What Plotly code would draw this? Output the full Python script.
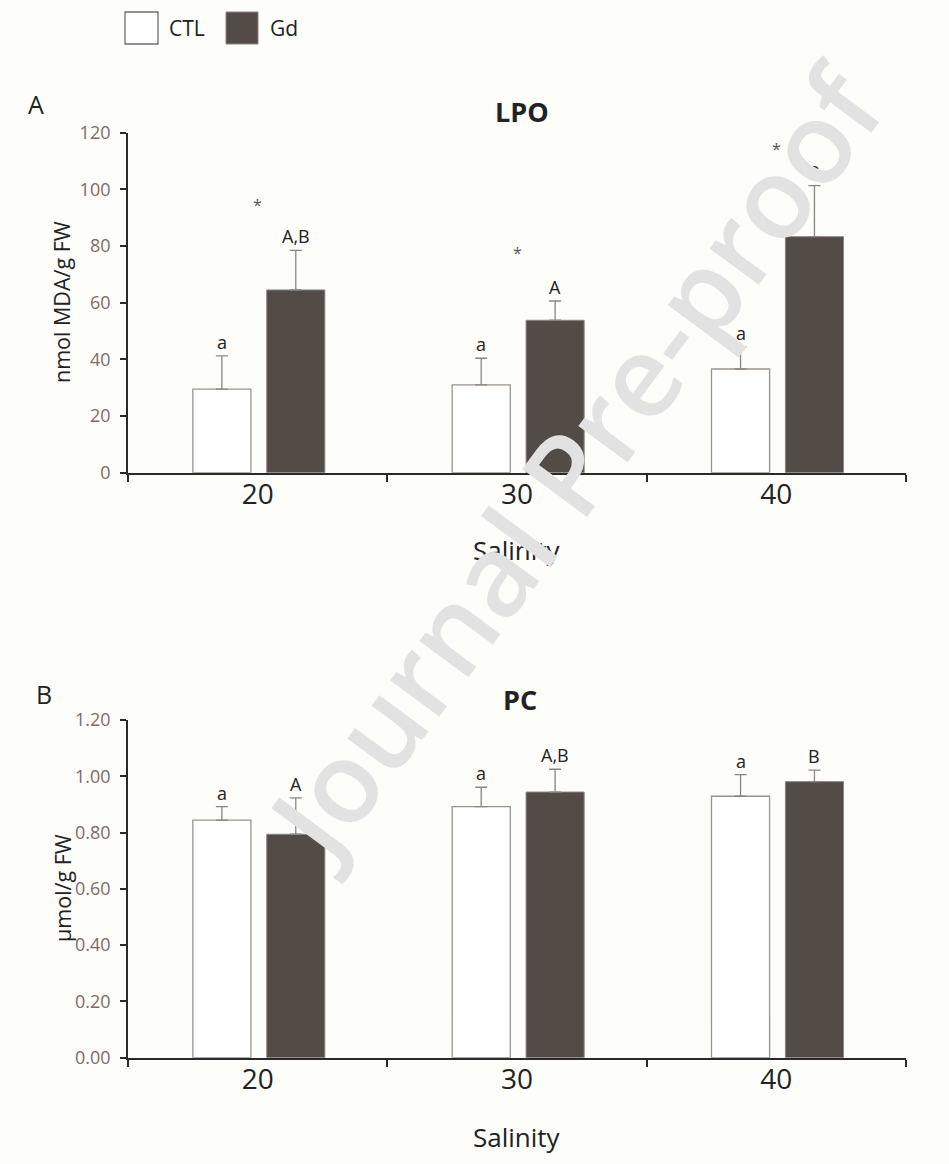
import plotly.graph_objects as go

# ---------------- data ----------------
salinity = ["20", "30", "40"]

lpo_ctl = [29.5, 31.0, 36.6]
lpo_ctl_err = [11.7, 9.4, 7.8]
lpo_gd = [64.5, 53.8, 83.3]
lpo_gd_err = [14.0, 6.8, 18.0]
lpo_ctl_letters = ["a", "a", "a"]
lpo_gd_letters = ["A,B", "A", "B"]
lpo_star_y = [94.5, 77.4, 114.2]

pc_ctl = [0.844, 0.892, 0.929]
pc_ctl_err = [0.048, 0.069, 0.077]
pc_gd = [0.794, 0.944, 0.981]
pc_gd_err = [0.129, 0.081, 0.041]
pc_ctl_letters = ["a", "a", "a"]
pc_gd_letters = ["A", "A,B", "B"]

lpo_ticks = [0, 20, 40, 60, 80, 100, 120]
pc_ticks = [0.0, 0.2, 0.4, 0.6, 0.8, 1.0, 1.2]

# ---------------- style ----------------
W, H = 949, 1164
FONT = "Open Sans"
BG = "#fdfdfa"
GD_COLOR = "#534c46"
CTL_COLOR = "#ffffff"
EDGE = "#9a9290"
ERR = "#8c8482"
AXIS = "#2a2a2a"
TICKLAB = "#7d6c63"
TXT = "#222222"

BAR_W = 0.224
CTL_OFF = -0.25
GD_OFF = 0.035


def px(x):
    return x / W


def py(y):
    return 1 - y / H


fig = go.Figure()


def add_bars(ctl, ctl_err, gd, gd_err, xa, ya):
    fig.add_trace(go.Bar(
        x=salinity, y=ctl, offset=CTL_OFF, width=BAR_W, name="CTL",
        marker=dict(color=CTL_COLOR, line=dict(color=EDGE, width=1.3)),
        error_y=dict(type="data", array=ctl_err, arrayminus=[0] * len(ctl),
                     symmetric=False, color=ERR, thickness=1.3, width=6),
        xaxis=xa, yaxis=ya, showlegend=False))
    fig.add_trace(go.Bar(
        x=salinity, y=gd, offset=GD_OFF, width=BAR_W, name="Gd",
        marker=dict(color=GD_COLOR, line=dict(color=ERR, width=1.0)),
        error_y=dict(type="data", array=gd_err, arrayminus=[0] * len(gd),
                     symmetric=False, color=ERR, thickness=1.3, width=6),
        xaxis=xa, yaxis=ya, showlegend=False))


add_bars(lpo_ctl, lpo_ctl_err, lpo_gd, lpo_gd_err, "x", "y")
add_bars(pc_ctl, pc_ctl_err, pc_gd, pc_gd_err, "x2", "y2")

annotations = []


def add_letters(vals, errs, letters, off, xr, yr):
    for i, (v, e, t) in enumerate(zip(vals, errs, letters)):
        annotations.append(dict(
            x=i + off + BAR_W / 2, y=v + e, xref=xr, yref=yr, text=t,
            showarrow=False, xanchor="center", yanchor="bottom", yshift=0,
            font=dict(family=FONT, size=18, color=TXT)))


add_letters(lpo_ctl, lpo_ctl_err, lpo_ctl_letters, CTL_OFF, "x", "y")
add_letters(lpo_gd, lpo_gd_err, lpo_gd_letters, GD_OFF, "x", "y")
add_letters(pc_ctl, pc_ctl_err, pc_ctl_letters, CTL_OFF, "x2", "y2")
add_letters(pc_gd, pc_gd_err, pc_gd_letters, GD_OFF, "x2", "y2")

for i, sy in enumerate(lpo_star_y):
    annotations.append(dict(
        x=i, y=sy, xref="x", yref="y", text="*", showarrow=False,
        xanchor="center", yanchor="middle",
        font=dict(family=FONT, size=16, color="#555555")))


def ptext(x, y, text, size, angle=0, xanchor="center", **kw):
    font = dict(family=FONT, size=size, color=kw.pop("color", TXT))
    font.update(kw.pop("font_extra", {}))
    return dict(x=px(x), y=py(y), xref="paper", yref="paper", text=text,
                textangle=angle, showarrow=False, xanchor=xanchor,
                yanchor="middle", font=font)


annotations += [
    ptext(522, 111, "<b>LPO</b>", 27),
    ptext(520, 699, "<b>PC</b>", 27),
    ptext(36, 104, "A", 25),
    ptext(44, 694, "B", 25),
    ptext(62, 302, "nmol MDA/g FW", 21.5, angle=-90),
    ptext(62, 888, "µmol/g FW", 21.5, angle=-90),
    ptext(517, 550, "Salinity", 26),
    ptext(517, 1137, "Salinity", 26),
    ptext(167, 28, "CTL", 21, xanchor="left"),
    ptext(268, 28, "Gd", 21, xanchor="left"),
    # watermark (on top of everything, as in the reference)
    ptext(573, 462, "Journal Pre-proof", 113, angle=-53.5,
          color="#e2e2e2", font_extra=dict(weight=600)),
]

shapes = [
    dict(type="rect", xref="paper", yref="paper", x0=px(125), x1=px(158),
         y0=py(44), y1=py(12), fillcolor="#ffffff", line=dict(color="#6e6e6e", width=1.3)),
    dict(type="rect", xref="paper", yref="paper", x0=px(226), x1=px(258),
         y0=py(44), y1=py(12), fillcolor=GD_COLOR, line=dict(color=ERR, width=1)),
]

xdom = [px(128), px(906)]


def xaxis_cfg(anchor):
    return dict(domain=xdom, anchor=anchor, type="category", range=[-0.5, 2.5],
                showline=True, linecolor=AXIS, linewidth=1.8, ticks="outside",
                tickson="boundaries", ticklen=7, tickcolor=AXIS, tickwidth=1.5,
                tickfont=dict(family=FONT, size=28, color=TXT), ticklabelstandoff=-4,
                showgrid=False, zeroline=False, automargin=False, fixedrange=True)


def yaxis_cfg(anchor, dom, rng, tickvals, fmt):
    return dict(domain=dom, anchor=anchor, range=rng, tickvals=tickvals,
                tickformat=fmt, showline=True, linecolor=AXIS, linewidth=1.8,
                ticks="outside", ticklen=6, tickcolor=AXIS, tickwidth=1.5,
                tickfont=dict(family=FONT, size=18, color=TICKLAB),
                ticklabelstandoff=6, showgrid=False, zeroline=False,
                automargin=False, fixedrange=True)


fig.update_layout(
    width=W, height=H, margin=dict(l=0, r=0, t=0, b=0),
    paper_bgcolor=BG, plot_bgcolor=BG, barmode="overlay",
    xaxis=xaxis_cfg("y"),
    yaxis=yaxis_cfg("x", [py(472.7), py(132.7)], [0, 120], lpo_ticks, "d"),
    xaxis2=xaxis_cfg("y2"),
    yaxis2=yaxis_cfg("x2", [py(1057.7), py(720)], [0, 1.2], pc_ticks, ".2f"),
    annotations=annotations, shapes=shapes,
    font=dict(family=FONT),
)

fig.write_html(
    "out.html",
    config={"displayModeBar": False},
    post_script="document.body.style.margin='0';document.body.style.overflow='hidden';",
)
